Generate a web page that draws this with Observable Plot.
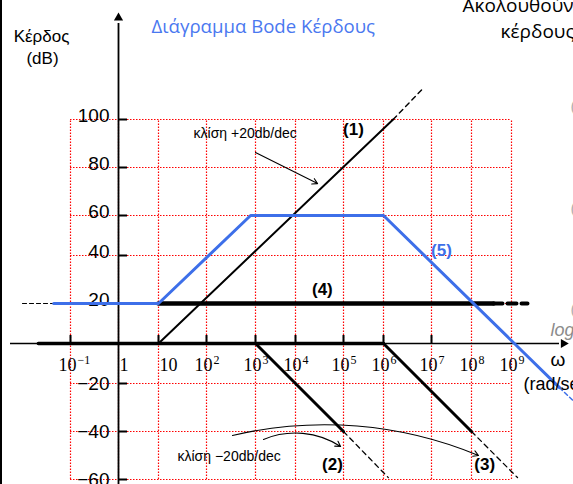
<!DOCTYPE html>
<html><head><meta charset="utf-8">
<script src="https://cdn.jsdelivr.net/npm/d3@7"></script>
<script src="https://cdn.jsdelivr.net/npm/@observablehq/plot@0.6"></script>
<style>
body{margin:0;background:#fff;}
#wrap{position:relative;width:573px;height:484px;overflow:hidden;background:#fff;}
#edge{position:absolute;left:0;top:0;width:2px;height:484px;background:#000;z-index:2;}
</style></head><body><div id="wrap"><div id="edge"></div></div>
<script>
// ---- axis data: decades of ω (log10) and gain levels (dB)
const decades = [-1, 0, 1, 2, 3, 4, 5, 6, 7, 8, 9];
const decadeBase = ["10", "1", "10", "10", "10", "10", "10", "10", "10", "10", "10"];
const decadeSup = ["−1", "", "", "2", "3", "4", "5", "6", "7", "8", "9"];
const gainLevels = [-60, -40, -20, 0, 20, 40, 60, 80, 100];
const gainTicks = [100, 80, 60, 40, 20, -20, -40, -60];
const tickedDecades = [-1, 1, 2, 3, 4, 5, 6, 7];

// ---- asymptote series (x = log10 ω, y = dB)
const line1X = [1, 6.2], line1Y = [0, 100];             // (1) +20 dB/dec
const line1ExtX = [6.2, 6.85], line1ExtY = [100, 113.5];
const flat0X = [-1.67, 6], flat0Y = [0, 0];               // 0 dB part of (2),(3)
const line2X = [3, 5], line2Y = [0, -40];                 // (2)
const line2ExtX = [5, 6.1], line2ExtY = [-40, -59.2];
const line3X = [6, 8], line3Y = [0, -40];                 // (3)
const line3ExtX = [8, 9.15], line3ExtY = [-40, -59.2];
const line4X = [1, 8.55], line4Y = [20, 20];              // (4) constant 20 dB
const line4ExtX = [8.55, 9.4], line4ExtY = [20, 20];
const line4LeftX = [-2, -1.35], line4LeftY = [20, 20];
const line5X = [-1.35, 1, 2.9, 6, 10.2], line5Y = [20, 20, 60, 60, -21.7]; // (5) total
const line5ExtX = [10.2, 10.75], line5ExtY = [-21.7, -30.5];

// ---- annotations
const labelText = ["(1)", "(2)", "(3)", "(4)", "(5)"];
const labelX = [5.25, 4.77, 8.33, 4.56, 7.25];
const labelY = [95.8, -53.75, -53.75, 25.8, 42.5];
const labelColor = ["black", "black", "black", "black", "#3d6fe9"];

const pts = (xs, ys) => xs.map((x, i) => ({x, y: ys[i]}));
const blue = "#3d6fe9";
const grid = {stroke: "#ff0000", strokeWidth: 1.2, strokeDasharray: "1.5,1.5"};
const serif = "'Liberation Serif', 'Times New Roman', serif";
const sans = "'Liberation Sans', Arial, sans-serif";
const slideFont = "'Open Sans', 'Noto Sans', sans-serif";

const xPix = [70, 118, 158, 206, 255, 295, 343, 383, 431, 471, 511];
const yPix = [479, 431, 383, 343, 303, 255, 215, 167, 119];

const hasSup = decades.map((d, i) => i).filter(i => decadeSup[i] !== "");
const noSup = decades.map((d, i) => i).filter(i => decadeSup[i] === "");
const posTicks = gainTicks.filter(d => d > 0);
const negTicks = gainTicks.filter(d => d < 0);
const fmt = d => String(d).replace("-", "−");

const chart = Plot.plot({
  width: 573,
  height: 484,
  margin: 0,
  x: {type: "linear", domain: decades, range: xPix, axis: null},
  y: {type: "linear", domain: gainLevels, range: yPix, axis: null},
  style: {fontFamily: sans, background: "transparent", overflow: "hidden"},
  marks: [
    // red dotted grid
    Plot.ruleX(decades, {x: d => d, y1: -60, y2: 100, ...grid}),
    Plot.ruleY(gainTicks, {y: d => d, x1: -1, x2: 9, ...grid}),
    // axes
    Plot.ruleY([0], {y: d => d, x1: -2.25, x2: 10.2, stroke: "black", strokeWidth: 1.6}),
    Plot.dot([{x: 10.3, y: 0}], {x: "x", y: "y", symbol: "triangle", r: 3.4, rotate: 90, fill: "black", stroke: "none"}),
    Plot.ruleX([0], {x: d => d, y1: -63, y2: 140, stroke: "black", strokeWidth: 1.8}),
    Plot.dot([{x: 0, y: 142.4}], {x: "x", y: "y", symbol: "triangle", r: 3.4, fill: "black", stroke: "none"}),
    Plot.ruleX(tickedDecades, {x: d => d, y1: 0, y2: 4, stroke: "black", strokeWidth: 2}),
    Plot.ruleY(gainTicks, {y: d => d, x1: 0, x2: 0.225, stroke: "black", strokeWidth: 2}),
    // y tick labels
    Plot.text(posTicks, {x: 0, y: d => d, text: fmt, textAnchor: "end", lineAnchor: "bottom",
      dx: -9, dy: 2, fontSize: 19, fill: "black"}),
    Plot.text(negTicks, {x: 0, y: d => d, text: fmt, textAnchor: "end", lineAnchor: "bottom",
      dx: -9, dy: 6, fontSize: 19, fill: "black"}),
    // x tick labels
    Plot.text(hasSup, {x: i => decades[i], y: -13.5, text: i => decadeBase[i], textAnchor: "end", lineAnchor: "bottom",
      dx: 6, fontSize: 18, fontFamily: serif, fill: "black"}),
    Plot.text(hasSup, {x: i => decades[i], y: -13.5, text: i => decadeSup[i], textAnchor: "start", lineAnchor: "bottom",
      dx: 7, dy: -7, fontSize: 12, fontFamily: serif, fill: "black"}),
    Plot.text(noSup, {x: i => decades[i], y: -13.5, text: i => decadeBase[i], textAnchor: "start", lineAnchor: "bottom",
      dx: 1, fontSize: 18, fontFamily: serif, fill: "black"}),
    // asymptotes
    Plot.line(pts(flat0X, flat0Y), {x: "x", y: "y", stroke: "black", strokeWidth: 3.5}),
    Plot.line(pts(line4LeftX, line4LeftY), {x: "x", y: "y", stroke: "black", strokeWidth: 1.2, strokeDasharray: "4,3"}),
    Plot.line(pts(line4X, line4Y), {x: "x", y: "y", stroke: "black", strokeWidth: 4.5}),
    Plot.line(pts(line4ExtX, line4ExtY), {x: "x", y: "y", stroke: "black", strokeWidth: 4, strokeDasharray: "9,5"}),
    Plot.line(pts(line1X, line1Y), {x: "x", y: "y", stroke: "black", strokeWidth: 2}),
    Plot.line(pts(line1ExtX, line1ExtY), {x: "x", y: "y", stroke: "black", strokeWidth: 1.4, strokeDasharray: "5,4"}),
    Plot.line(pts(line2X, line2Y), {x: "x", y: "y", stroke: "black", strokeWidth: 3}),
    Plot.line(pts(line2ExtX, line2ExtY), {x: "x", y: "y", stroke: "black", strokeWidth: 1.3, strokeDasharray: "5,4"}),
    Plot.line(pts(line3X, line3Y), {x: "x", y: "y", stroke: "black", strokeWidth: 3}),
    Plot.line(pts(line3ExtX, line3ExtY), {x: "x", y: "y", stroke: "black", strokeWidth: 1.3, strokeDasharray: "5,4"}),
    Plot.line(pts(line5X, line5Y), {x: "x", y: "y", stroke: blue, strokeWidth: 3, strokeLinejoin: "miter"}),
    Plot.line(pts(line5ExtX, line5ExtY), {x: "x", y: "y", stroke: blue, strokeWidth: 1.5, strokeDasharray: "4,3"}),
    // slope annotations
    Plot.text(["κλίση +20db/dec"], {x: 1.73, y: 92.1, textAnchor: "start", lineAnchor: "bottom", fontSize: 14, fill: "black"}),
    Plot.arrow([{x1: 3, y1: 86.25, x2: 4.46, y2: 73.3}], {x1: "x1", y1: "y1", x2: "x2", y2: "y2", stroke: "black", strokeWidth: 1.1, headLength: 8}),
    Plot.text(["κλίση −20db/dec"], {x: 1.396, y: -52.1, textAnchor: "start", lineAnchor: "bottom", fontSize: 14, fill: "black"}),
    Plot.arrow([{x1: 2.53, y1: -41.67, x2: 8.175, y2: -50}], {x1: "x1", y1: "y1", x2: "x2", y2: "y2", bend: 18, stroke: "black", strokeWidth: 1.1, headLength: 8}),
    Plot.arrow([{x1: 3.2, y1: -43.3, x2: 4.94, y2: -46.25}], {x1: "x1", y1: "y1", x2: "x2", y2: "y2", bend: 28, stroke: "black", strokeWidth: 1.1, headLength: 8}),
    // curve labels
    Plot.text(labelText, {x: (d, i) => labelX[i], y: (d, i) => labelY[i], text: d => d, fill: (d, i) => labelColor[i],
      fontWeight: "bold", fontSize: 17}),
    // frequency axis label
    Plot.text(["ω"], {x: 9.975, y: -11, textAnchor: "start", lineAnchor: "bottom", fontSize: 19, fill: "black"}),
    Plot.text(["(rad/sec)"], {x: 9.3, y: -22.5, textAnchor: "start", lineAnchor: "bottom", fontSize: 18, fill: "black"}),
    Plot.text(["log"], {x: 9.975, y: 4, textAnchor: "start", lineAnchor: "bottom", fontSize: 18, fontStyle: "italic", fill: "#8c8c8c"}),
    Plot.text(["(", "(", "("], {x: 10.475, y: (d, i) => [103.3, 60.8, 14.5][i], textAnchor: "start", lineAnchor: "bottom", fontSize: 16, fill: "#b0b0b0"}),
    // titles
    Plot.text(["Διάγραμμα Bode Κέρδους"], {frameAnchor: "top-left", dx: 151, dy: 32, textAnchor: "start", lineAnchor: "bottom",
      fontSize: 18.6, fontFamily: slideFont, fill: "#4a78f0"}),
    Plot.text(["Κέρδος"], {frameAnchor: "top-left", dx: 41, dy: 41, textAnchor: "middle", lineAnchor: "bottom", fontSize: 17, fill: "black"}),
    Plot.text(["(dB)"], {frameAnchor: "top-left", dx: 42, dy: 63, textAnchor: "middle", lineAnchor: "bottom", fontSize: 17, fill: "black"}),
    Plot.text(["Ακολουθούν"], {frameAnchor: "top-left", dx: 462, dy: 11, textAnchor: "start", lineAnchor: "bottom", fontSize: 19, fontFamily: slideFont, fill: "black"}),
    Plot.text(["κέρδους"], {frameAnchor: "top-left", dx: 500, dy: 37, textAnchor: "start", lineAnchor: "bottom", fontSize: 19, fontFamily: slideFont, fill: "black"})
  ]
});
document.getElementById("wrap").appendChild(chart);
</script>
</body></html>
